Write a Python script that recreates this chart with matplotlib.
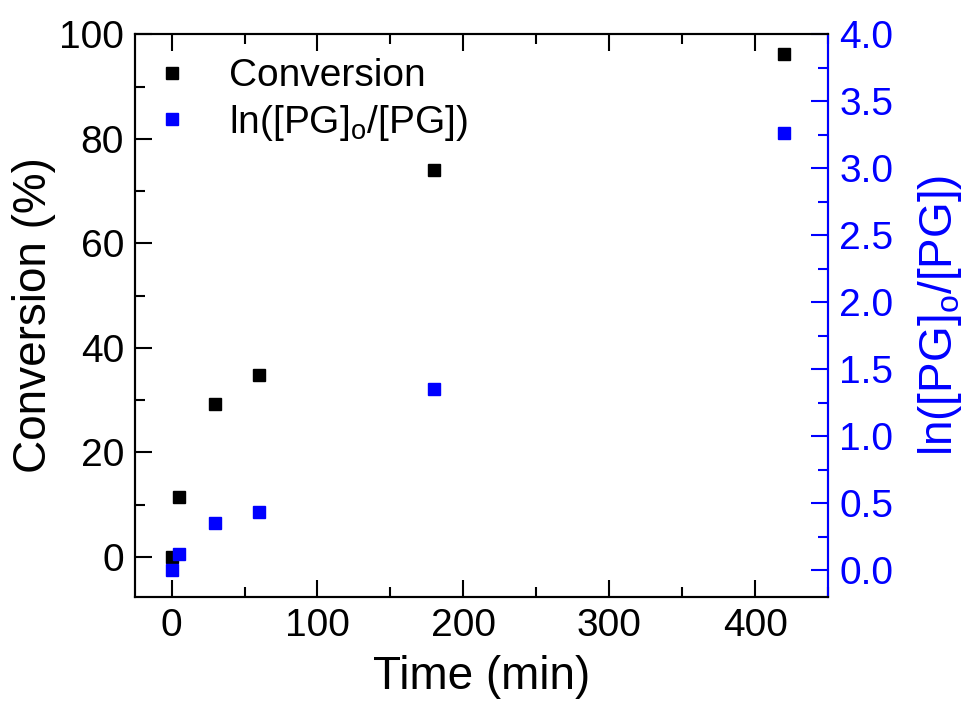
import matplotlib
matplotlib.use("Agg")
import matplotlib.pyplot as plt
from matplotlib.ticker import MultipleLocator, FormatStrFormatter

plt.rcParams["font.family"] = ["Liberation Sans", "DejaVu Sans"]
plt.rcParams["mathtext.default"] = "regular"

time_min = [0, 5, 30, 60, 180, 420]
conversion = [0.0, 11.5, 29.2, 34.9, 74.1, 96.3]
ln_ratio = [0.0, 0.12, 0.35, 0.43, 1.35, 3.26]

blue = "#0000FF"

fig = plt.figure(figsize=(9.72, 7.13), dpi=100)
ax = fig.add_axes([0.139, 0.163, 0.713, 0.789])
ax2 = ax.twinx()

h1, = ax.plot(time_min, conversion, "s", color="black", markersize=8.5,
              linestyle="none", label="Conversion")
h2, = ax2.plot(time_min, ln_ratio, "s", color=blue, markersize=8.5,
               linestyle="none", label=r"ln([PG]$_{o}$/[PG])")

ax.set_xlim(-25, 450)
ax.set_ylim(-7.6, 100)
ax2.set_ylim(-0.2, 4.0)

ax.xaxis.set_major_locator(MultipleLocator(100))
ax.xaxis.set_minor_locator(MultipleLocator(50))
ax.yaxis.set_major_locator(MultipleLocator(20))
ax.yaxis.set_minor_locator(MultipleLocator(10))
ax2.yaxis.set_major_locator(MultipleLocator(0.5))
ax2.yaxis.set_minor_locator(MultipleLocator(0.25))
ax2.yaxis.set_major_formatter(FormatStrFormatter("%.1f"))

ax.xaxis.set_ticks_position("both")
ax.tick_params(which="both", direction="in", top=True, right=False,
               labeltop=False, labelsize=28, width=1.5)
ax.tick_params(which="major", length=12, pad=8)
ax.tick_params(which="minor", length=7)
ax2.tick_params(which="both", direction="in", colors=blue, labelsize=28, width=1.5)
ax2.tick_params(which="major", length=12, pad=8)
ax2.tick_params(which="minor", length=7)

for sp in ax.spines.values():
    sp.set_linewidth(1.5)
for sp in ax2.spines.values():
    sp.set_linewidth(1.5)
ax2.spines["right"].set_color(blue)

ax.set_xlabel("Time (min)", fontsize=33, labelpad=8)
ax.set_ylabel("Conversion (%)", fontsize=33, labelpad=2)
ax2.set_ylabel(r"ln([PG]$_{o}$/[PG])", fontsize=33, color=blue, labelpad=16)

ax2.legend(handles=[h1, h2], loc="upper left", bbox_to_anchor=(0.006, 0.985),
           frameon=False, fontsize=28, handlelength=0.9, handletextpad=1.0,
           labelspacing=0.22, borderpad=0.4, borderaxespad=0.0)

fig.savefig("out.png", dpi=100)
